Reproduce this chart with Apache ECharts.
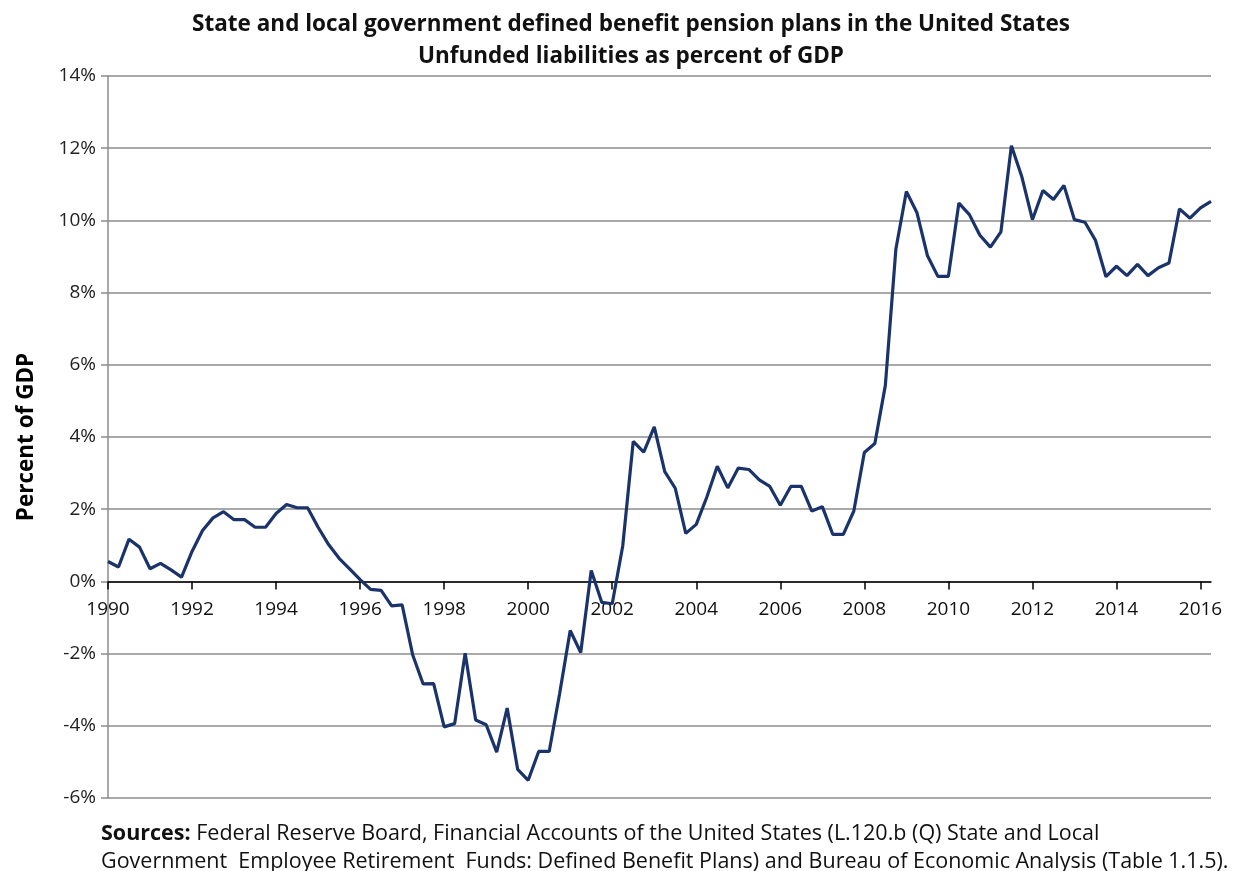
<!DOCTYPE html>
<html>
<head>
<meta charset="utf-8">
<script src="https://cdn.jsdelivr.net/npm/echarts@6/dist/echarts.min.js"></script>
<style>
html,body{margin:0;padding:0;background:#fff;}
#chart{width:1233px;height:871px;}
</style>
</head>
<body>
<div id="chart"></div>
<script>
// Quarterly data, 1990Q1 .. 2016Q2
const startYear = 1990;
const unfundedPctGDP = [
  0.55, 0.40, 1.17, 0.95, 0.35, 0.50, 0.32, 0.12,
  0.83, 1.41, 1.76, 1.93, 1.71, 1.71, 1.50, 1.50,
  1.88, 2.13, 2.04, 2.04, 1.50, 1.02, 0.64, 0.35,
  0.05, -0.22, -0.25, -0.68, -0.65, -2.03, -2.84, -2.83,
  -4.03, -3.94, -1.99, -3.84, -3.97, -4.73, -3.51, -5.21,
  -5.51, -4.71, -4.71, -3.10, -1.36, -1.97, 0.30, -0.58,
  -0.62, 0.98, 3.88, 3.58, 4.28, 3.04, 2.58, 1.33,
  1.58, 2.33, 3.19, 2.59, 3.14, 3.10, 2.81, 2.63,
  2.11, 2.63, 2.63, 1.95, 2.07, 1.30, 1.30, 1.95,
  3.57, 3.82, 5.43, 9.20, 10.80, 10.22, 9.03, 8.45,
  8.45, 10.48, 10.16, 9.59, 9.26, 9.68, 12.07, 11.20,
  10.02, 10.83, 10.58, 10.97, 10.02, 9.95, 9.45, 8.44,
  8.73, 8.47, 8.78, 8.47, 8.69, 8.82, 10.32, 10.06,
  10.35, 10.53
];
const quarters = unfundedPctGDP.map((_, i) => (startYear + Math.floor(i / 4)) + ' Q' + (i % 4 + 1));

const titleLines = [
  'State and local government defined benefit pension plans in the United States',
  'Unfunded liabilities as percent of GDP'
];
const yAxisTitle = 'Percent of GDP';
const sourceLine1 = 'Federal Reserve Board, Financial Accounts of the United States (L.120.b (Q) State and Local';
const sourceLine2 = 'Government  Employee Retirement  Funds: Defined Benefit Plans) and Bureau of Economic Analysis (Table 1.1.5).';

const FONT = '"Open Sans", "Noto Sans", sans-serif';
const GRID_TOP = 76, GRID_BOTTOM = 73, CHART_H = 871;
const Y_MIN = -6, Y_MAX = 14;
// distance from the bottom of the grid to the 0% line, used to lift the x axis onto y = 0
const plotH = CHART_H - GRID_TOP - GRID_BOTTOM;
const zeroLift = plotH * (0 - Y_MIN) / (Y_MAX - Y_MIN);

const chart = echarts.init(document.getElementById('chart'), null, {renderer: 'canvas'});
chart.setOption({
  animation: false,
  backgroundColor: '#ffffff',
  title: [
    {
      text: titleLines.join('\n'),
      left: 626, top: 4, textAlign: 'center',
      textStyle: {fontFamily: FONT, fontWeight: 'bold', fontSize: 22.5, lineHeight: 32, color: '#111'}
    },
    {
      text: '{b|Sources:} ' + sourceLine1 + '\n' + sourceLine2,
      left: 96, top: 815,
      textStyle: {
        fontFamily: FONT, fontSize: 21.5, lineHeight: 28, color: '#111', fontWeight: 'normal',
        rich: {b: {fontFamily: FONT, fontSize: 21.5, fontWeight: 'bold', color: '#111', lineHeight: 28}}
      }
    }
  ],
  grid: {left: 108, right: 22, top: GRID_TOP, bottom: GRID_BOTTOM, containLabel: false},
  xAxis: {
    type: 'category',
    data: quarters,
    boundaryGap: false,
    offset: -zeroLift,
    axisLine: {onZero: false, lineStyle: {color: '#000', width: 1.5}},
    axisTick: {show: true, interval: 7, length: 8, lineStyle: {color: '#000', width: 1.5}},
    axisLabel: {
      interval: 7, margin: 19,
      formatter: v => v.slice(0, 4),
      fontFamily: FONT, fontSize: 19, color: '#111'
    },
    splitLine: {show: false}
  },
  yAxis: {
    type: 'value',
    min: Y_MIN, max: Y_MAX, interval: 2,
    name: yAxisTitle,
    nameLocation: 'middle',
    nameGap: 70,
    nameTextStyle: {fontFamily: FONT, fontWeight: 'bold', fontSize: 22.5, color: '#000'},
    axisLine: {show: true, lineStyle: {color: '#8c8c8c', width: 1.5}},
    axisTick: {show: true, length: 7, lineStyle: {color: '#8c8c8c', width: 1.5}},
    axisLabel: {formatter: '{value}%', fontFamily: FONT, fontSize: 19, color: '#222', margin: 12},
    splitLine: {show: true, lineStyle: {color: '#8c8c8c', width: 1.5}}
  },
  series: [{
    type: 'line',
    data: unfundedPctGDP,
    showSymbol: false,
    symbol: 'none',
    lineStyle: {color: '#1b336b', width: 3.2},
    itemStyle: {color: '#1b336b'}
  }]
});
</script>
</body>
</html>
